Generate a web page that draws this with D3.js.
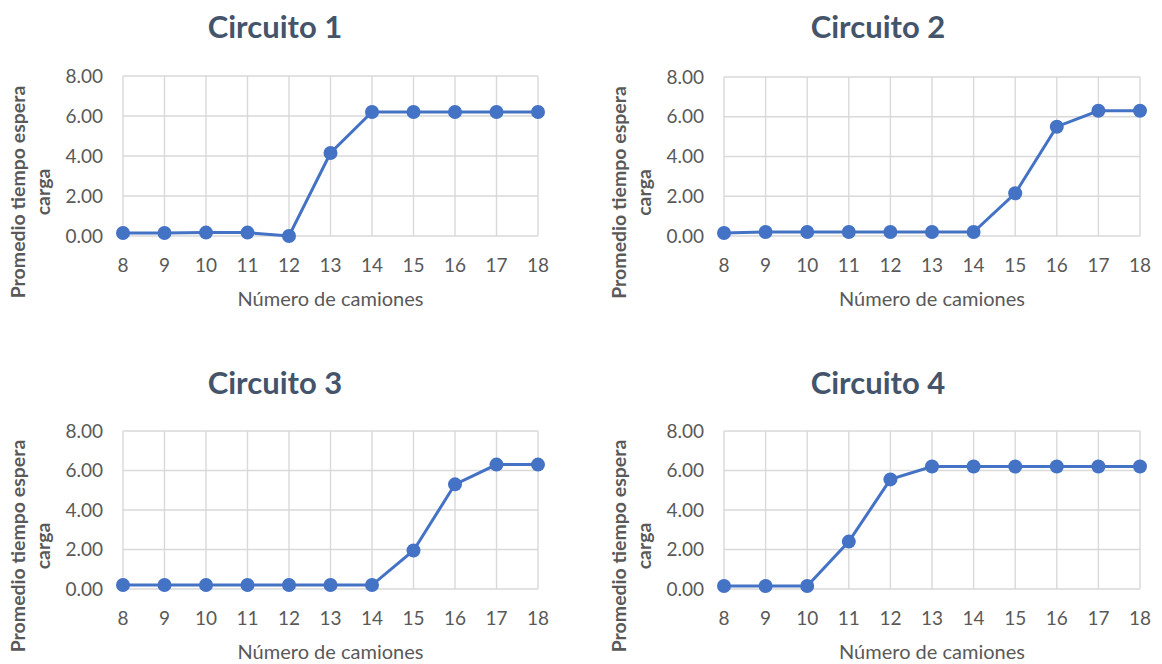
<!DOCTYPE html>
<html><head><meta charset="utf-8">
<script src="https://cdn.jsdelivr.net/npm/d3@7"></script>
<style>body{margin:0;background:#fff}svg{display:block}</style>
</head><body><svg id="c" width="1162" height="664"></svg>
<script>
const categories = [8,9,10,11,12,13,14,15,16,17,18];
const yTicks = [0,2,4,6,8];
const titles = ["Circuito 1","Circuito 2","Circuito 3","Circuito 4"];
const circuito1 = [0.15,0.15,0.17,0.17,0.0,4.15,6.2,6.2,6.2,6.2,6.2];
const circuito2 = [0.15,0.2,0.2,0.2,0.2,0.2,0.2,2.15,5.5,6.3,6.3];
const circuito3 = [0.2,0.2,0.2,0.2,0.2,0.2,0.2,1.95,5.3,6.3,6.3];
const circuito4 = [0.15,0.15,0.15,2.4,5.55,6.2,6.2,6.2,6.2,6.2,6.2];
const xTitle = "Número de camiones";
const yTitle = ["Promedio tiempo espera","carga"];

const series = [circuito1,circuito2,circuito3,circuito4];
const panels = [
  {x0:123,x1:538,y0:76,y1:236,tx:275,ty:27},
  {x0:724,x1:1140,y0:77,y1:236,tx:878,ty:27},
  {x0:123,x1:538,y0:431,y1:589,tx:275,ty:383},
  {x0:724,x1:1140,y0:431,y1:589,tx:878,ty:383}
];
const svg = d3.select("#c");
const font = "Lato, 'Open Sans', sans-serif";
const txt = "#595959";
const blue = "#4472C4";

panels.forEach((p,i)=>{
  const g = svg.append("g");
  const x = d3.scaleLinear().domain([8,18]).range([p.x0,p.x1]);
  const y = d3.scaleLinear().domain([0,8]).range([p.y1,p.y0]);
  g.selectAll(".hg").data(yTicks).enter().append("line")
    .attr("x1",p.x0).attr("x2",p.x1).attr("y1",d=>y(d)).attr("y2",d=>y(d))
    .attr("stroke","#d9d9d9").attr("stroke-width",1.4);
  g.selectAll(".vg").data(categories).enter().append("line")
    .attr("x1",d=>x(d)).attr("x2",d=>x(d)).attr("y1",p.y0).attr("y2",p.y1)
    .attr("stroke","#d9d9d9").attr("stroke-width",1.4);
  g.selectAll(".yl").data(yTicks).enter().append("text")
    .attr("x",p.x0-20).attr("y",d=>y(d)).attr("dy","0.35em")
    .attr("text-anchor","end").attr("font-family",font).attr("font-size",19)
    .attr("fill",txt).text(d=>d3.format(".2f")(d));
  g.selectAll(".xl").data(categories).enter().append("text")
    .attr("x",d=>x(d)).attr("y",p.y1+29).attr("dy","0.35em").attr("text-anchor","middle")
    .attr("font-family",font).attr("font-size",19).attr("fill",txt).text(d=>d);
  g.append("text").attr("x",(p.x0+p.x1)/2).attr("y",p.y1+63).attr("dy","0.35em")
    .attr("text-anchor","middle").attr("font-family",font).attr("font-size",20)
    .attr("fill",txt).text(xTitle);
  const cy = (p.y0+p.y1)/2 + 36;
  yTitle.forEach((t,k)=>{
    g.append("text").attr("transform",`translate(${p.x0-105+k*25},${cy}) rotate(-90)`)
      .attr("dy","0.35em")
      .attr("text-anchor","middle").attr("font-family",font).attr("font-size",19.5)
      .attr("font-weight","bold").attr("fill",txt).text(t);
  });
  g.append("text").attr("x",p.tx).attr("y",p.ty).attr("dy","0.35em")
    .attr("text-anchor","middle").attr("font-family",font).attr("font-size",31)
    .attr("font-weight","bold").attr("fill","#44546A").text(titles[i]);
  const data = categories.map((c,j)=>({c,v:series[i][j]}));
  g.append("path").datum(data).attr("fill","none").attr("stroke",blue)
    .attr("stroke-width",3)
    .attr("d",d3.line().x(d=>x(d.c)).y(d=>y(d.v)));
  g.selectAll(".pt").data(data).enter().append("circle")
    .attr("cx",d=>x(d.c)).attr("cy",d=>y(d.v)).attr("r",7).attr("fill",blue);
});
</script></body></html>
